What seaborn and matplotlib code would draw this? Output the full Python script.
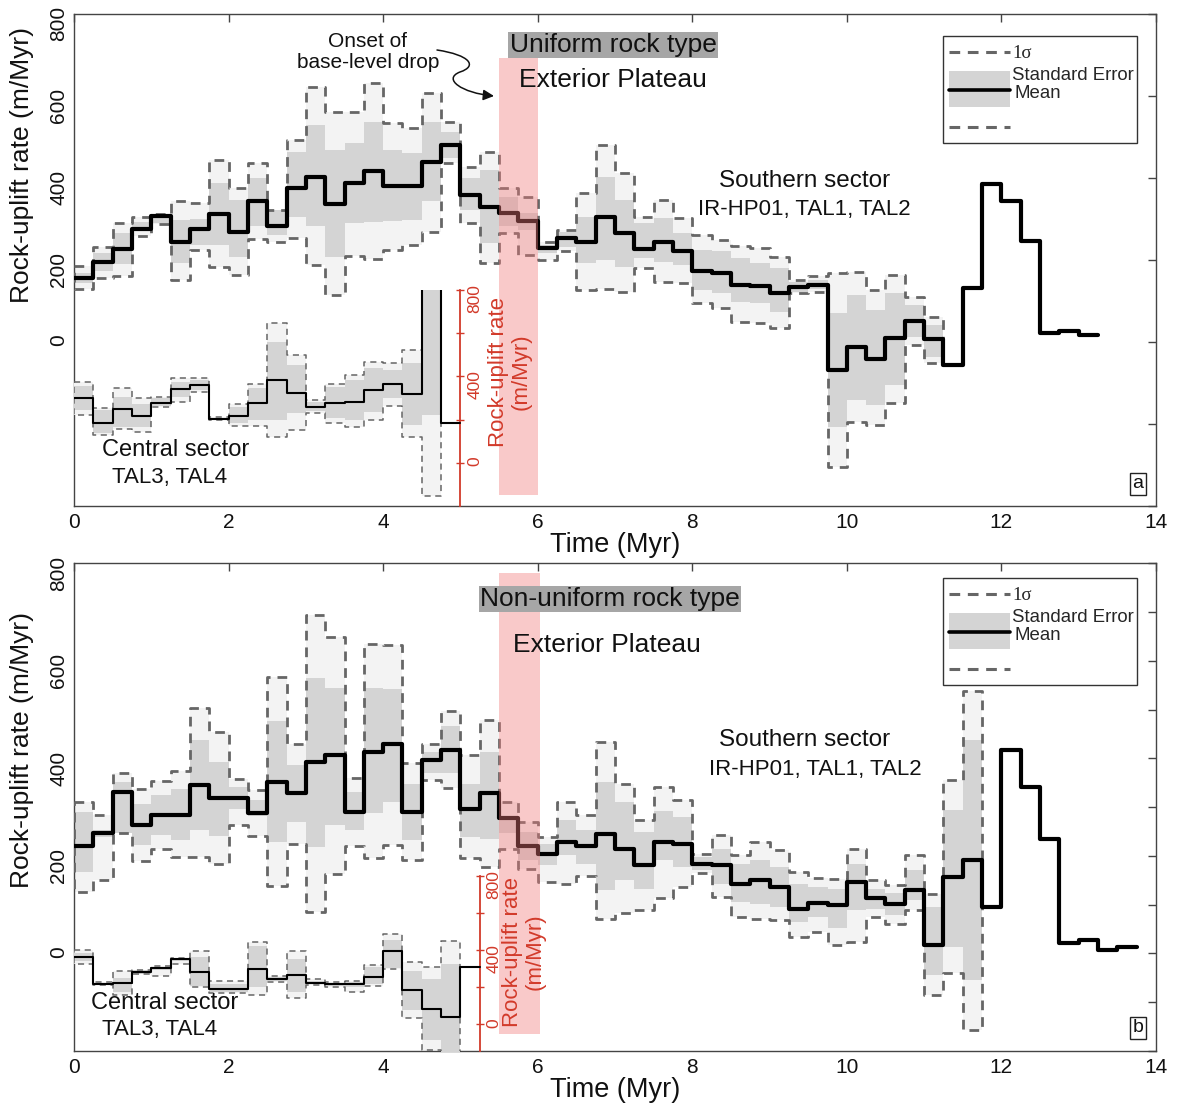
import numpy as np
import matplotlib
matplotlib.use("Agg")
import matplotlib.pyplot as plt
import seaborn as sns
from matplotlib.path import Path
from matplotlib.patches import FancyArrowPatch, Rectangle

# ---------------------------------------------------------------- data
BIN = 0.25  # Myr per time bin, bins start at 0

# (a) uniform rock type, southern sector (IR-HP01, TAL1, TAL2)
mean_a = [155, 195, 225, 274, 307, 244, 274, 311, 268, 344, 282, 374, 401, 336, 386, 416, 380, 380, 439, 480,
          358, 329, 315, 294, 228, 252, 244, 305, 266, 225, 244, 221, 173, 167, 138, 136, 118, 134, 138,
          -70, -12, -43, 8, 51, 6, -57, 132, 385, 344, 246, 22, 27, 16]
se_hi_a = [167, 216, 265, 293, 310, 297, 299, 386, 346, 399, 320, 463, 528, 468, 484, 537, 468, 460, 537, 512,
           399, 419, 354, 313, 236, 268, 305, 402, 346, 289, 301, 264, 224, 220, 203, 191, 179, 146, 150,
           69, 114, 77, 118, 90, 41]
se_lo_a = [143, 173, 190, 272, 289, 193, 236, 236, 207, 281, 260, 305, 281, 207, 289, 293, 295, 297, 342, 447,
           321, 240, 281, 272, 216, 232, 191, 199, 183, 203, 195, 187, 126, 118, 98, 94, 73, 122, 128,
           -207, -142, -154, -106, 12, -37]
sig_hi_a = [185, 232, 289, 305, 312, 344, 338, 443, 374, 437, 320, 492, 622, 561, 561, 630, 533, 520, 606, 537,
            427, 463, 374, 354, 244, 272, 362, 480, 411, 305, 346, 301, 260, 248, 233, 228, 207, 150, 160,
            168, 171, 126, 163, 110, 61]
sig_lo_a = [128, 155, 160, 258, 286, 150, 223, 183, 163, 250, 244, 252, 187, 114, 209, 201, 224, 236, 268, 435,
            289, 191, 264, 211, 199, 220, 126, 128, 122, 179, 146, 144, 95, 81, 49, 45, 33, 118, 120,
            -305, -195, -203, -150, -8, -53]

# (a) central sector (TAL3, TAL4), own rate scale
cmean_a = [298, 185, 249, 216, 278, 340, 358, 201, 216, 275, 383, 324, 259, 275, 282, 337, 363, 318, 950, 185]
cse_hi_a = [355, 244, 306, 272, 298, 375, 383, 208, 259, 344, 560, 452, 282, 352, 383, 437, 429, 460, 1200]
cse_lo_a = [244, 139, 167, 167, 262, 306, 337, 196, 182, 198, 198, 229, 241, 206, 198, 236, 298, 175, 221]
csig_hi_a = [375, 255, 344, 298, 306, 391, 391, 210, 272, 364, 645, 499, 290, 364, 406, 468, 463, 522, 1500]
csig_lo_a = [221, 128, 155, 144, 259, 282, 329, 198, 170, 170, 120, 151, 229, 185, 164, 198, 262, 120, -154]

# (b) non-uniform rock type, southern sector
mean_b = [220, 246, 331, 263, 283, 283, 346, 319, 319, 288, 351, 329, 392, 406, 290, 414, 429, 290, 396, 418,
          297, 329, 278, 220, 203, 229, 220, 244, 215, 181, 229, 225, 184, 181, 142, 150, 136, 92, 104, 99,
          147, 113, 101, 131, 17, 156, 191, 95, 417, 341, 235, 22, 27, 7, 14]
se_hi_b = [290, 253, 351, 307, 324, 338, 438, 392, 341, 314, 476, 386, 565, 545, 331, 545, 543, 348, 413, 466,
           348, 413, 280, 249, 225, 273, 253, 351, 310, 249, 293, 280, 198, 215, 184, 191, 177, 143, 136, 133,
           184, 133, 123, 171, 96, 294, 437]
se_lo_b = [167, 239, 247, 222, 242, 233, 253, 240, 297, 281, 229, 270, 218, 263, 253, 287, 310, 233, 370, 370,
           239, 235, 246, 191, 181, 201, 184, 130, 150, 133, 191, 177, 171, 143, 106, 102, 95, 65, 75, 52,
           89, 92, 79, 109, -44, 14, -55]
sig_hi_b = [310, 283, 370, 338, 353, 375, 503, 455, 358, 336, 566, 430, 693, 648, 360, 635, 633, 390, 429, 497,
            406, 478, 310, 270, 239, 310, 283, 433, 348, 273, 341, 314, 204, 242, 201, 229, 212, 167, 154, 152,
            215, 150, 140, 201, 122, 355, 539]
sig_lo_b = [126, 150, 246, 190, 215, 197, 198, 184, 263, 240, 138, 225, 85, 162, 220, 195, 222, 191, 356, 340,
            195, 177, 215, 174, 147, 143, 158, 70, 82, 89, 113, 136, 164, 116, 75, 70, 68, 34, 45, 17,
            24, 75, 61, 89, -85, -41, -157]

# (b) central sector
cmean_b = [364, 218, 221, 280, 304, 352, 280, 191, 191, 298, 245, 266, 221, 214, 214, 253, 393, 182, 79, 39, 307]
cse_hi_b = [382, 222, 250, 290, 310, 355, 361, 214, 214, 423, 255, 352, 232, 220, 225, 307, 454, 286, 245, 325]
cse_lo_b = [343, 214, 173, 270, 290, 340, 203, 173, 173, 200, 232, 173, 215, 208, 200, 214, 304, 75, -86, -200]
csig_hi_b = [400, 227, 286, 293, 316, 357, 396, 232, 232, 441, 262, 393, 245, 226, 230, 321, 489, 334, 307, 446]
csig_lo_b = [325, 212, 155, 268, 262, 325, 200, 168, 168, 155, 227, 138, 209, 200, 173, 203, 298, 30, -139, -300]

x_ticks = [0, 2, 4, 6, 8, 10, 12, 14]

# ---------------------------------------------------------------- style
W, H = 1177, 1112
sns.set_theme(style="white")
plt.rcParams['font.family'] = ['Liberation Sans', 'DejaVu Sans']
plt.rcParams['axes.edgecolor'] = '#444444'
plt.rcParams['axes.linewidth'] = 1.0

RED = '#d23a2a'
SIG_FILL = '#f3f3f3'
SE_FILL = '#d4d4d4'
DASH_COL = '#666666'

fig = plt.figure(figsize=(W / 100, H / 100), dpi=100)


def px_box(left, top, right, bottom):
    return [left / W, 1 - bottom / H, (right - left) / W, (bottom - top) / H]


def P(x, y):
    return (x / W, 1 - y / H)


def stairs(vals):
    v = np.asarray(vals, float)
    e = BIN * np.arange(len(v) + 1)
    return np.repeat(e, 2)[1:-1], np.repeat(v, 2)


def draw_series(ax, mean, se_hi, se_lo, sig_hi, sig_lo, lw_mean, lw_dash, dash):
    xb, shi = stairs(sig_hi)
    _, slo = stairs(sig_lo)
    _, ehi = stairs(se_hi)
    _, elo = stairs(se_lo)
    ax.fill_between(xb, slo, shi, color=SIG_FILL, lw=0, zorder=1)
    ax.fill_between(xb, elo, ehi, color=SE_FILL, lw=0, zorder=2)
    ox = np.concatenate([xb, xb[::-1], xb[:1]])
    oy = np.concatenate([shi, slo[::-1], shi[:1]])
    sns.lineplot(x=ox, y=oy, sort=False, estimator=None, color=DASH_COL,
                 lw=lw_dash, ax=ax, zorder=3)
    ax.lines[-1].set_dashes(dash)
    xm, ym = stairs(mean)
    sns.lineplot(x=xm, y=ym, sort=False, estimator=None, color='black',
                 lw=lw_mean, ax=ax, zorder=4)


def style_main(ax, ylim, yticks, ylabels, label_y):
    ax.set_xlim(0, 14)
    ax.set_ylim(*ylim)
    ax.set_xticks(x_ticks)
    ax.set_xticklabels([str(t) for t in x_ticks])
    ax.set_yticks(yticks)
    ax.set_yticklabels(ylabels)
    ax.tick_params(direction='in', length=6, width=1, color='#444444',
                   top=True, right=True, labelsize=15, labelcolor='#111111')
    ax.tick_params(axis='y', labelrotation=90, pad=4)
    ax.tick_params(axis='x', pad=5)
    ax.set_xlabel('Time (Myr)', fontsize=19.5, labelpad=0, color='#111111')
    ax.set_ylabel('Rock-uplift rate (m/Myr)', fontsize=19, color='#111111')
    ax.yaxis.set_label_coords(-0.037, label_y)
    for s in ax.spines.values():
        s.set_visible(True)


def central_axes(box, ylim, xpos, label_xy):
    cax = fig.add_axes(box)
    cax.patch.set_visible(False)
    cax.set_xlim(0, 14)
    cax.set_ylim(*ylim)
    for name in ('left', 'top', 'bottom'):
        cax.spines[name].set_visible(False)
    sp = cax.spines['right']
    sp.set_visible(True)
    sp.set_position(('data', xpos))
    sp.set_color(RED)
    sp.set_linewidth(1.3)
    sp.set_bounds(ylim[0], 800)
    cax.xaxis.set_visible(False)
    cax.yaxis.set_ticks_position('right')
    cax.set_yticks([0, 400, 800])
    cax.set_yticks([200, 600], minor=True)
    cax.tick_params(axis='y', which='both', direction='inout', length=6, width=1,
                    colors=RED, labelsize=12.5, labelrotation=90, pad=2)
    cax.text(label_xy[0], label_xy[1], 'Rock-uplift rate\n(m/Myr)', rotation=90,
             color=RED, fontsize=16, ha='center', va='center', linespacing=1.05)
    return cax


def draw_key(top):
    box = Rectangle(P(943, top + 107), 194 / W, 107 / H, transform=fig.transFigure,
                    facecolor='white', edgecolor='#333333', lw=1, zorder=20)
    fig.patches.append(box)
    for yy in (top + 16, top + 91):
        ln = plt.Line2D([949 / W, 1010 / W], [1 - yy / H, 1 - yy / H], transform=fig.transFigure,
                        color=DASH_COL, lw=2.2, zorder=21)
        ln.set_dashes((3.5, 2.5))
        fig.lines.append(ln)
    fig.patches.append(Rectangle(P(949, top + 71), 61 / W, 36 / H, transform=fig.transFigure,
                                 facecolor=SE_FILL, edgecolor='none', zorder=21))
    fig.lines.append(plt.Line2D([949 / W, 1010 / W], [1 - (top + 54) / H] * 2,
                                transform=fig.transFigure, color='black', lw=2.6, zorder=22))
    fig.text(*P(1012, top + 18), '1σ', fontsize=13.5, va='center', ha='left',
             family=['Liberation Serif', 'DejaVu Serif'], zorder=23)
    fig.text(*P(1012, top + 40), 'Standard Error', fontsize=13.4, va='center', ha='left', zorder=23)
    fig.text(*P(1014, top + 58), 'Mean', fontsize=13.4, va='center', ha='left', zorder=23)


def ftext(x, y, s, size, **kw):
    fig.text(*P(x, y), s, fontsize=size, ha='center', va='center', color='#111111', **kw)


# ---------------------------------------------------------------- panel a
ax_a = fig.add_axes(px_box(74, 13.7, 1156, 505.7))
draw_series(ax_a, mean_a, se_hi_a, se_lo_a, sig_hi_a, sig_lo_a, 3.0, 2.0, (3.5, 2.5))
style_main(ax_a, (-400, 800), list(range(-400, 801, 200)),
           ['', '', '0', '200', '400', '600', '800'], 0.692)
ax_a.add_patch(Rectangle((5.5, -374), 0.5, 1066, facecolor='#f27a7a', alpha=0.4,
                         edgecolor='none', zorder=10))

cax_a = central_axes(px_box(74, 290, 1156, 505.7), (-199, 800), 5.0, (5.64, 420))
draw_series(cax_a, cmean_a, cse_hi_a, cse_lo_a, csig_hi_a, csig_lo_a, 1.5, 1.1, (4, 3))

ftext(368, 52, 'Onset of\nbase-level drop', 15, linespacing=1.15)
ftext(613, 45, 'Uniform rock type', 19,
      bbox=dict(facecolor='#a6a6a6', edgecolor='none', pad=1.0))
ftext(613, 80, 'Exterior Plateau', 19)
ftext(805, 181, 'Southern sector', 17.5)
ftext(804, 210, 'IR-HP01, TAL1, TAL2', 16)
ftext(176, 450, 'Central sector', 17)
ftext(170, 477, 'TAL3, TAL4', 16)
ftext(1138, 484, 'a', 14, bbox=dict(facecolor='white', edgecolor='#222222', pad=1.5, lw=1))

verts = [P(437, 50), P(470, 55), P(478, 66), P(460, 72), P(442, 79), P(462, 93), P(494, 96)]
codes = [Path.MOVETO] + [Path.CURVE4] * 6
arrow = FancyArrowPatch(path=Path(verts, codes), transform=fig.transFigure,
                        arrowstyle='-|>', mutation_scale=16, color='#111111', lw=1.1, zorder=30)
fig.patches.append(arrow)
draw_key(36)

# ---------------------------------------------------------------- panel b
ax_b = fig.add_axes(px_box(74, 563.3, 1156, 1051))
draw_series(ax_b, mean_b, se_hi_b, se_lo_b, sig_hi_b, sig_lo_b, 3.0, 2.0, (3.5, 2.5))
style_main(ax_b, (-200, 800), list(range(-200, 801, 100)),
           ['', '', '0', '', '200', '', '400', '', '600', '', '800'], 0.617)
ax_b.add_patch(Rectangle((5.5, -165), 0.53, 946, facecolor='#f27a7a', alpha=0.4,
                         edgecolor='none', zorder=10))

cax_b = central_axes(px_box(74, 876, 1156, 1051), (-146, 800), 5.25, (5.82, 390))
draw_series(cax_b, cmean_b, cse_hi_b, cse_lo_b, csig_hi_b, csig_lo_b, 1.5, 1.1, (4, 3))

ftext(610, 599, 'Non-uniform rock type', 19,
      bbox=dict(facecolor='#a6a6a6', edgecolor='none', pad=1.0))
ftext(607, 645, 'Exterior Plateau', 19)
ftext(805, 740, 'Southern sector', 17.5)
ftext(815, 770, 'IR-HP01, TAL1, TAL2', 16)
ftext(165, 1003, 'Central sector', 17)
ftext(160, 1030, 'TAL3, TAL4', 16)
ftext(1138, 1028, 'b', 14, bbox=dict(facecolor='white', edgecolor='#222222', pad=1.5, lw=1))
draw_key(578)

fig.savefig('out.png', dpi=100)
